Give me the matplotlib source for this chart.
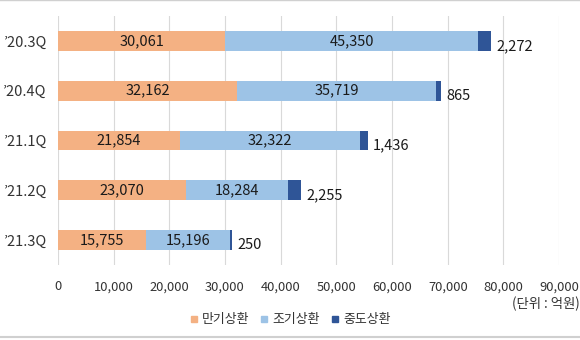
import numpy as np
import matplotlib
matplotlib.use('Agg')
import matplotlib.pyplot as plt
from matplotlib.lines import Line2D

plt.rcParams['font.family'] = ['Noto Sans CJK KR', 'DejaVu Sans']

# data
quarters = ['’20.3Q', '’20.4Q', '’21.1Q', '’21.2Q', '’21.3Q']
maturity = [30061, 32162, 21854, 23070, 15755]     # 만기상환
early = [45350, 35719, 32322, 18284, 15196]        # 조기상환
midway = [2272, 865, 1436, 2255, 250]              # 중도상환
series_names = ['만기상환', '조기상환', '중도상환']
colors = ['#F4B183', '#9DC3E6', '#2F5597']
xticks = np.arange(0, 90001, 10000)

fig = plt.figure(figsize=(5.8, 3.4), dpi=100)
ax = fig.add_axes([0.1, 1 - 265 / 340, 0.864, 249 / 340])

y = np.arange(len(quarters))
h = 0.4
mat = np.array(maturity)
ear = np.array(early)
mid = np.array(midway)

ax.barh(y, mat, height=h, color=colors[0], zorder=3)
ax.barh(y, ear, left=mat, height=h, color=colors[1], zorder=3)
ax.barh(y, mid, left=mat + ear, height=h, color=colors[2], zorder=3)

txt = '#1a1a1a'
for i in range(len(quarters)):
    ax.text(mat[i] / 2, y[i], f'{mat[i]:,}', ha='center', va='center',
            fontsize=10.5, color=txt, zorder=4)
    ax.text(mat[i] + ear[i] / 2, y[i], f'{ear[i]:,}', ha='center', va='center',
            fontsize=10.5, color=txt, zorder=4)
    end = mat[i] + ear[i] + mid[i]
    ax.annotate(f'{mid[i]:,}', (end, y[i] + 0.1), xytext=(4, 0),
                textcoords='offset points', ha='left', va='center',
                fontsize=10.5, color=txt)

ax.set_xlim(0, 90000)
ax.set_ylim(len(quarters) - 0.5, -0.5)
ax.set_xticks(xticks)
ax.set_xticklabels([f'{v:,}' for v in xticks], fontsize=9.3, color='#333333')
ax.set_yticks(y)
ax.set_yticklabels(quarters, fontsize=10.5, color='#333333')
ax.tick_params(length=0, pad=11)
ax.tick_params(axis='y', pad=8)
ax.grid(axis='x', color='#D9D9D9', linewidth=0.8, zorder=0)
for s in ax.spines.values():
    s.set_visible(False)

fig.text(0.999, 1 - 304 / 340, '(단위 : 억원)', ha='right', va='center',
         fontsize=9.6, color='#333333')

handles = [Line2D([], [], marker='s', linestyle='', markersize=4.5,
                  markerfacecolor=c, markeredgecolor=c) for c in colors]
fig.legend(handles, series_names, loc='center', ncol=3,
           bbox_to_anchor=(0.5, 1 - 320 / 340), frameon=False, fontsize=9.3,
           handlelength=0.7, handletextpad=0.3, columnspacing=0.8,
           labelcolor='#333333')

# thin border lines at top/bottom like the source image
fig.add_artist(Line2D([0, 1], [0.999, 0.999], color='#D0D0D0', linewidth=1))
fig.add_artist(Line2D([0, 1], [1 - 337 / 340] * 2, color='#D0D0D0', linewidth=1.5))

fig.savefig('out.png', dpi=100)
